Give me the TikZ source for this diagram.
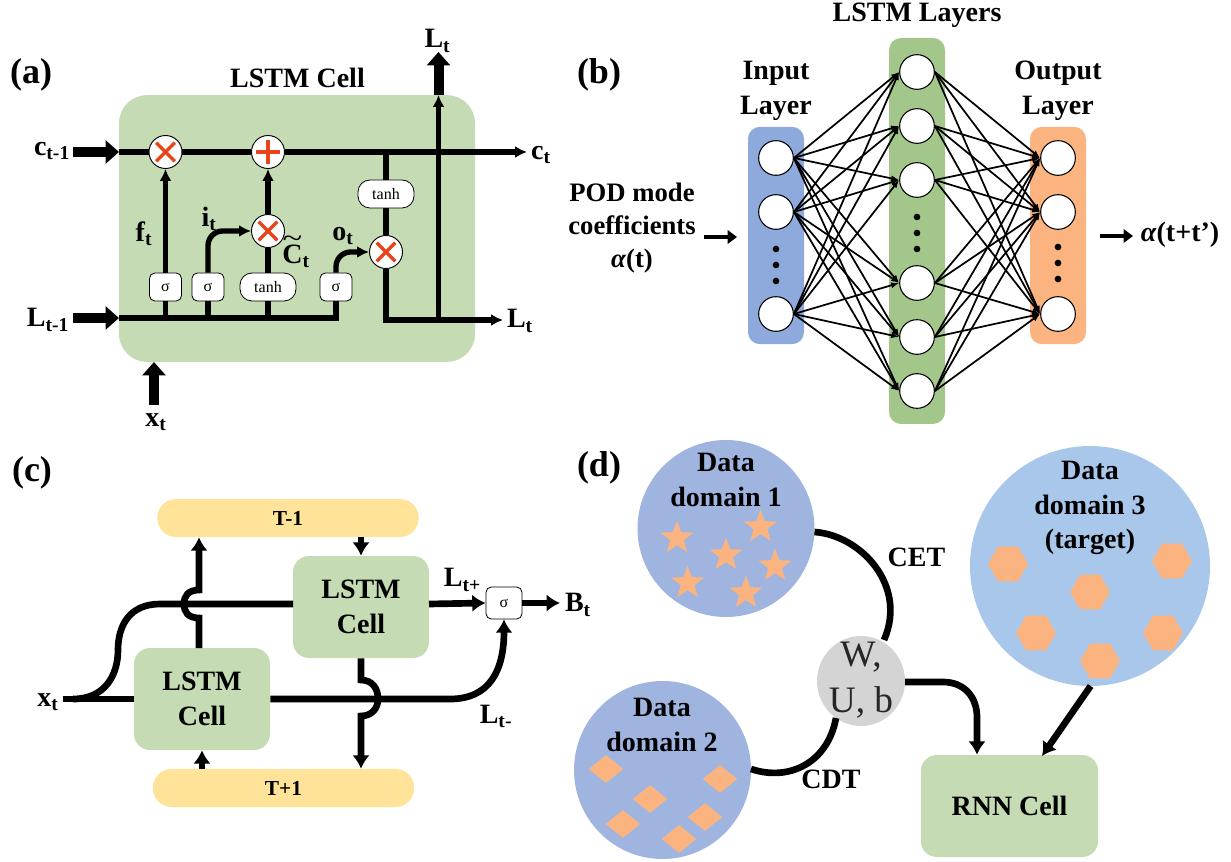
\documentclass[tikz,border=0pt]{standalone}
\usepackage{fontspec}
\setmainfont[Ligatures=ResetAll]{Liberation Serif}
\usepackage{tikz}
\usetikzlibrary{shapes.geometric}
\usetikzlibrary{arrows.meta}
\definecolor{cellgreen}{HTML}{C5DBB3}
\definecolor{laygreen}{HTML}{A3C78A}
\definecolor{layblue}{HTML}{8EA9DB}
\definecolor{layorange}{HTML}{FBB47F}
\definecolor{tyellow}{HTML}{FFE399}
\definecolor{domblue}{HTML}{A0B4E0}
\definecolor{domsky}{HTML}{A9C7EA}
\definecolor{opred}{HTML}{E8441A}

\begin{document}
\begin{tikzpicture}[x=0.75pt,y=-0.75pt]
    \tikzset{lbl/.style={font=\bfseries\fontsize{21}{26}\selectfont, inner sep=0pt, align=center},
      panel/.style={font=\bfseries\fontsize{27}{32}\selectfont, inner sep=0pt},
      cellbox/.style={rectangle, fill=cellgreen, rounded corners=12pt},
      opnode/.style={circle, minimum size=24.75pt, inner sep=0pt, fill=white, draw=black, line width=0.7pt},
      opx/.style={opnode, path picture={
        \draw[opred, line width=2.4pt] ([shift={(-7pt,-7pt)}]path picture bounding box.center) -- ([shift={(7pt,7pt)}]path picture bounding box.center);
        \draw[opred, line width=2.4pt] ([shift={(-7pt,7pt)}]path picture bounding box.center) -- ([shift={(7pt,-7pt)}]path picture bounding box.center);}},
      opplus/.style={opnode, path picture={
        \draw[opred, line width=2.4pt] ([shift={(-9pt,0pt)}]path picture bounding box.center) -- ([shift={(9pt,0pt)}]path picture bounding box.center);
        \draw[opred, line width=2.4pt] ([shift={(0pt,-9pt)}]path picture bounding box.center) -- ([shift={(0pt,9pt)}]path picture bounding box.center);}},
      sgbox/.style={rectangle, rounded corners=4pt, minimum width=24pt, minimum height=21pt, inner sep=0pt, fill=white, draw=black, line width=0.6pt, font=\fontsize{12}{12}\selectfont},
      tanhbox/.style={sgbox, rounded corners=9pt, minimum width=42pt, font=\fontsize{12}{12}\selectfont},
      flow/.style={line width=4pt, -{Latex[length=9pt,width=9pt]}},
      plain/.style={line width=4pt},
      block/.style={line width=7.5pt, -{Triangle[length=10pt,width=17pt]}},
      cflow/.style={line width=5pt, -{Latex[length=10pt,width=13pt]}},
      cplain/.style={line width=5pt},
      barrow/.style={line width=3.6pt, -{Triangle[length=7pt,width=10pt]}},
      neuron/.style={circle, minimum size=26pt, inner sep=0pt, fill=white, draw=black, line width=0.8pt},
      nnedge/.style={line width=1.3pt, -{Latex[length=6pt,width=4.5pt]}},
      dotnode/.style={circle, minimum size=5pt, inner sep=0pt, fill=black},
      domnode/.style={ellipse, inner sep=0pt},
      starnode/.style={star, star points=5, star point ratio=2.4, minimum size=26pt, inner sep=0pt, fill=layorange},
      hexnode/.style={regular polygon, regular polygon sides=6, minimum size=30pt, inner sep=0pt, fill=layorange},
      dianode/.style={diamond, minimum width=26pt, minimum height=21pt, inner sep=0pt, fill=layorange}}
\useasboundingbox (0,0) rectangle (1231,862);
%% panel a
\node (cell) at (297,228.5) [cellbox, rounded corners=21pt, minimum width=267pt, minimum height=200pt] {};
\node (pa) at (31,75) [panel] {(a)};
\node (acap) at (297.5,78) [lbl] {LSTM Cell};
\node (x1) at (165.5,152) [opx] {};
\node (p1) at (268,152) [opplus] {};
\node (x2) at (268,231) [opx] {};
\node (x3) at (386,252) [opx] {};
\node (sg1) at (165.5,287) [sgbox] {σ};
\node (sg2) at (208,287) [sgbox] {σ};
\node (th1) at (268,287) [tanhbox] {tanh};
\node (sg4) at (336,287) [sgbox] {σ};
\node (th2) at (386,194) [tanhbox] {tanh};
\node (cm) at (52,151) [lbl] {c\textsubscript{t-1}};
\node (lm) at (48,320) [lbl] {L\textsubscript{t-1}};
\node (cp) at (541,155) [lbl] {c\textsubscript{t}};
\node (lp) at (520,321) [lbl] {L\textsubscript{t}};
\node (lu) at (437.5,41) [lbl] {L\textsubscript{t}};
\node (xa) at (156,422) [lbl] {x\textsubscript{t}};
\node (ft) at (144,234) [lbl] {f\textsubscript{t}};
\node (it) at (209,219) [lbl] {i\textsubscript{t}};
\node (ct) at (296,256) [lbl] {\ooalign{C\cr\hidewidth\raisebox{0.56em}{\mdseries\scalebox{1.3}[1]{\textasciitilde}}\hidewidth\cr}\textsubscript{t}};
\node (ot) at (343,236) [lbl] {o\textsubscript{t}};
\coordinate (c0) at (73,152);
\coordinate (c1) at (119,152);
\coordinate (c2) at (527,152);
\coordinate (c3) at (386,152);
\coordinate (l0) at (73,318);
\coordinate (l1) at (119,318);
\coordinate (l2) at (503,320);
\coordinate (l3) at (438.5,320);
\coordinate (l4) at (438.5,95);
\coordinate (l5) at (438.5,52);
\coordinate (x0) at (154,405);
\coordinate (x4) at (154,362);
\draw [block] (c0) -- (c1);
\draw [block] (l0) -- (l1);
\draw [block] (x0) -- (x4);
\draw [block] (l4) -- (l5);
\draw [plain] (c1) -- (x1);
\draw [plain] (x1) -- (p1);
\draw [flow] (p1) -- (c2);
\draw [plain] (c3) -- (th2.north);
\draw [plain] (th2.south) -- (x3.north);
\draw [flow] (x3.south) |- (l2);
\draw [flow] (l3) -- (l4);
\draw [plain, line join=miter] (l1) -| (sg4.south);
\draw [plain] (sg1.south) -- (sg1.south |- l1);
\draw [plain] (sg2.south) -- (sg2.south |- l1);
\draw [plain] (th1.south) -- (th1.south |- l1);
\draw [flow] (sg1.north) -- (x1.south);
\draw [plain] (th1.north) -- (x2.south);
\draw [flow] (x2.north) -- (p1.south);
\draw [flow, rounded corners=11pt] (sg2.north) |- (x2.west);
\draw [flow, rounded corners=11pt] (sg4.north) |- (x3.west);
%% panel b
\node (pb) at (599,75) [panel] {(b)};
\node (blay) at (776,235.5) [rectangle, fill=layblue, rounded corners=9pt, minimum width=42pt, minimum height=163pt] {};
\node (glay) at (917,231) [rectangle, fill=laygreen, rounded corners=9pt, minimum width=42pt, minimum height=289.5pt] {};
\node (olay) at (1058,235.5) [rectangle, fill=layorange, rounded corners=9pt, minimum width=42pt, minimum height=163pt] {};
\node (blbl) at (776,91) [lbl] {Input\\Layer};
\node (glbl) at (917,15) [lbl] {LSTM Layers};
\node (olbl) at (1058,91) [lbl] {Output\\Layer};
\node (podl) at (632,228) [lbl, font=\bfseries\fontsize{20}{25}\selectfont] {POD mode\\coefficients\\\textit{α}(t)};
\node (outl) at (1180,235) [lbl] {\textit{α}(t+t')};
  \node (i1) at (776,158) [neuron] {};
  \node (i2) at (776,212) [neuron] {};
  \node (i3) at (776,314) [neuron] {};
  \node (g1) at (917,72) [neuron] {};
  \node (g2) at (917,126) [neuron] {};
  \node (g3) at (917,180) [neuron] {};
  \node (g4) at (917,283) [neuron] {};
  \node (g5) at (917,337) [neuron] {};
  \node (g6) at (917,391) [neuron] {};
  \node (o1) at (1058,158) [neuron] {};
  \node (o2) at (1058,212) [neuron] {};
  \node (o3) at (1058,314) [neuron] {};
  \node (d1) at (776,249) [dotnode] {};
  \node (d2) at (776,265) [dotnode] {};
  \node (d3) at (776,281) [dotnode] {};
  \node (d4) at (917,217) [dotnode] {};
  \node (d5) at (917,233) [dotnode] {};
  \node (d6) at (917,249) [dotnode] {};
  \node (d7) at (1058,247) [dotnode] {};
  \node (d8) at (1058,263) [dotnode] {};
  \node (d9) at (1058,279) [dotnode] {};

  \draw [nnedge] (i1.east) -- (g1.west);
  \draw [nnedge] (i1.east) -- (g2.west);
  \draw [nnedge] (i1.east) -- (g3.west);
  \draw [nnedge] (i1.east) -- (g4.west);
  \draw [nnedge] (i1.east) -- (g5.west);
  \draw [nnedge] (i1.east) -- (g6.west);
  \draw [nnedge] (i2.east) -- (g1.west);
  \draw [nnedge] (i2.east) -- (g2.west);
  \draw [nnedge] (i2.east) -- (g3.west);
  \draw [nnedge] (i2.east) -- (g4.west);
  \draw [nnedge] (i2.east) -- (g5.west);
  \draw [nnedge] (i2.east) -- (g6.west);
  \draw [nnedge] (i3.east) -- (g1.west);
  \draw [nnedge] (i3.east) -- (g2.west);
  \draw [nnedge] (i3.east) -- (g3.west);
  \draw [nnedge] (i3.east) -- (g4.west);
  \draw [nnedge] (i3.east) -- (g5.west);
  \draw [nnedge] (i3.east) -- (g6.west);
  \draw [nnedge] (g1.east) -- (o1.west);
  \draw [nnedge] (g1.east) -- (o2.west);
  \draw [nnedge] (g1.east) -- (o3.west);
  \draw [nnedge] (g2.east) -- (o1.west);
  \draw [nnedge] (g2.east) -- (o2.west);
  \draw [nnedge] (g2.east) -- (o3.west);
  \draw [nnedge] (g3.east) -- (o1.west);
  \draw [nnedge] (g3.east) -- (o2.west);
  \draw [nnedge] (g3.east) -- (o3.west);
  \draw [nnedge] (g4.east) -- (o1.west);
  \draw [nnedge] (g4.east) -- (o2.west);
  \draw [nnedge] (g4.east) -- (o3.west);
  \draw [nnedge] (g5.east) -- (o1.west);
  \draw [nnedge] (g5.east) -- (o2.west);
  \draw [nnedge] (g5.east) -- (o3.west);
  \draw [nnedge] (g6.east) -- (o1.west);
  \draw [nnedge] (g6.east) -- (o2.west);
  \draw [nnedge] (g6.east) -- (o3.west);
\coordinate (ba) at (704,237);
\coordinate (bb) at (737,237);
\coordinate (bc) at (1100,236);
\coordinate (bd) at (1133,236);
\draw [barrow] (ba) -- (bb);
\draw [barrow] (bc) -- (bd);
%% panel c
\node (pc) at (32,473) [panel] {(c)};
\node (tm) at (288,518) [rectangle, fill=tyellow, rounded corners=14pt, minimum width=196pt, minimum height=28.5pt, font=\bfseries\fontsize{16}{16}\selectfont] {T-1};
\node (tp) at (283.5,788) [rectangle, fill=tyellow, rounded corners=14pt, minimum width=196pt, minimum height=28.5pt, font=\bfseries\fontsize{16}{16}\selectfont] {T+1};
\node (cr) at (361,607) [cellbox, minimum width=102pt, minimum height=76.5pt, lbl] {LSTM\\Cell};
\node (cl) at (202,699) [cellbox, minimum width=102pt, minimum height=76.5pt, lbl] {LSTM\\Cell};
\node (sgc) at (504,603) [sgbox, minimum width=27pt, minimum height=24pt] {σ};
\node (xc) at (48,702) [lbl] {x\textsubscript{t}};
\node (lpl) at (462.5,580) [lbl] {L\textsubscript{t+}};
\node (lmi) at (496,716) [lbl] {L\textsubscript{t-}};
\node (bt) at (578,605) [lbl] {B\textsubscript{t}};
\coordinate (xs) at (62.5,699);
\coordinate (xm) at (73,699);
\coordinate (su) at (118,650);
\coordinate (sv) at (160,604);
\coordinate (crw) at (293,604);
\coordinate (cre) at (429,604);
\coordinate (sgo) at (560,603);
\coordinate (lf) at (450,699);
\coordinate (jz) at (199,648);
\coordinate (ja) at (199,618);
\coordinate (jb) at (184,604);
\coordinate (jc) at (199,590);
\coordinate (jd) at (361,680);
\coordinate (je) at (378,699);
\coordinate (jf) at (361,716);
\draw [cplain] (xs) -- (cl.west);
\draw [cplain] (xm) .. controls (105,699) and (118,675) .. (su) .. controls (118,625) and (130,604) .. (sv) -- (crw);
\draw [cflow] (cl.east) -- (lf) .. controls (490,699) and (504,670) .. (sgc.south);
\draw [cflow] (cre) -- (sgc.west);
\draw [cflow] (sgc.east) -- (sgo);
\draw [cflow] (jz) -- (ja) .. controls (188,618) and (184,612) .. (jb) .. controls (184,596) and (188,590) .. (jc) -- (tm.south -| jc);
\draw [cflow] (cr.south) -- (jd) .. controls (372,680) and (378,688) .. (je) .. controls (378,708) and (372,716) .. (jf) -- (tp.north -| jf);
\draw [cflow] (tm.south -| cr) -- (cr.north);
\draw [cflow] (tp.north -| cl) -- (cl.south);
%% panel d
\node (pd) at (599,468) [panel] {(d)};
\node (dom1) at (726,528.5) [domnode, fill=domblue, minimum width=132.75pt, minimum height=132.75pt] {};
\node (dom2) at (662.5,770) [domnode, fill=domblue, minimum width=132.75pt, minimum height=133.5pt] {};
\node (dom3) at (1090,566) [domnode, fill=domsky, minimum width=180pt, minimum height=180pt] {};
\node (wub) at (861,681) [domnode, fill=black!17, minimum width=66pt, minimum height=67.5pt] {};
\node (wubt) at (861,680) [inner sep=0pt, font=\fontsize{28}{34}\selectfont, align=center, text=black!85] {W,\\U, b};
\node (rnn) at (1009.5,806) [cellbox, minimum width=133pt, minimum height=76.5pt, lbl] {RNN Cell};
\node (t1) at (726,480) [lbl] {Data\\domain 1};
\node (t2) at (662,725) [lbl] {Data\\domain 2};
\node (t3) at (1090,508) [lbl] {Data\\domain 3\\(target)};
\node (cet) at (916.5,557) [lbl] {CET};
\node (cdt) at (831,779) [lbl] {CDT};
  \node (s1) at (677,538) [starnode] {};
  \node (s2) at (760.5,527) [starnode] {};
  \node (s3) at (726,555) [starnode] {};
  \node (s4) at (775,566) [starnode] {};
  \node (s5) at (687.6,583) [starnode] {};
  \node (s6) at (746,593) [starnode] {};
  \node (h1) at (1008,564) [hexnode] {};
  \node (h2) at (1172,561) [hexnode] {};
  \node (h3) at (1090,592) [hexnode] {};
  \node (h4) at (1036,633) [hexnode] {};
  \node (h5) at (1163,633) [hexnode] {};
  \node (h6) at (1100,661) [hexnode] {};
  \node (q1) at (606,769) [dianode] {};
  \node (q2) at (720,779) [dianode] {};
  \node (q3) at (650,799) [dianode] {};
  \node (q4) at (705,817) [dianode] {};
  \node (q5) at (623,824) [dianode] {};
  \node (q6) at (679,839) [dianode] {};
\coordinate (ra) at (814.5,532);
\coordinate (rb) at (884,640);
\coordinate (rc) at (751,769);
\coordinate (rd) at (836,718);
\coordinate (re) at (905,682);
\coordinate (rf) at (943,682);
\coordinate (rg) at (977,717);
\coordinate (rh) at (1090.6,686);
\coordinate (ri) at (1042,756);
\draw [cplain] (ra) .. controls (860,535) and (908,585) .. (rb);
\draw [cplain] (rc) .. controls (790,782) and (828,762) .. (rd);
\draw [cflow] (re) -- (rf) .. controls (965,682) and (977,698) .. (rg) -- (rg |- rnn.north);
\draw [cflow] (rh) -- (ri);
\end{tikzpicture}
\end{document}
